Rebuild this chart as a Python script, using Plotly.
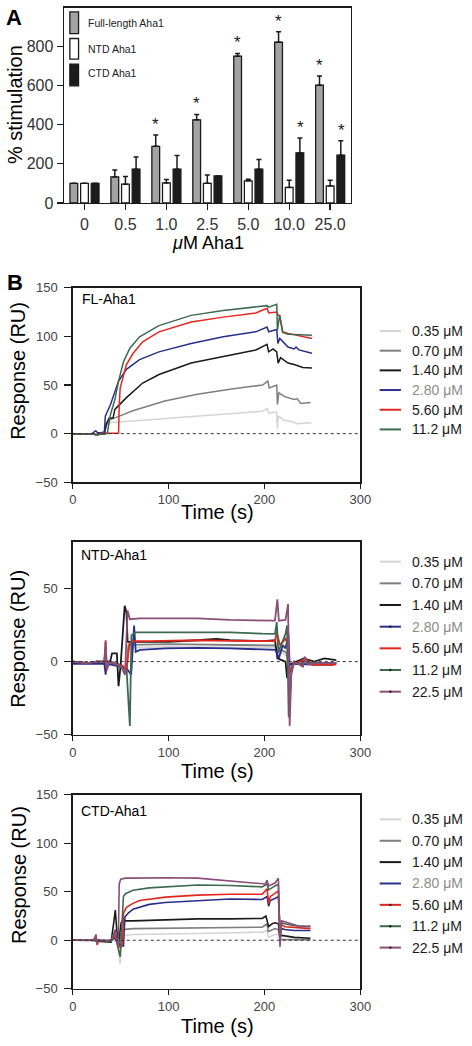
import plotly.graph_objects as go

W, H = 472, 1046
FONT = "Liberation Sans, Arial, sans-serif"

# ---------------- Panel A data ----------------
conc_labels = ["0", "0.5", "1.0", "2.5", "5.0", "10.0", "25.0"]
fl_stim = [100, 133, 289, 424, 749, 820, 601]
fl_err = [None, 35, 58, 28, 14, 54, 47]
ntd_stim = [100, 96, 102, 100, 113, 79, 87]
ntd_err = [None, 39, 18, 43, 8, 37, 29]
ctd_stim = [100, 172, 172, 138, 172, 256, 244]
ctd_err = [None, 62, 70, None, 50, 76, 74]
fl_sig = [False, False, True, True, True, True, True]
ctd_sig = [False, False, False, False, False, True, True]

# ---------------- Panel B: FL-Aha1 sensorgrams ----------------
fl_names = ["0.35 μM", "0.70 μM", "1.40 μM", "2.80 μM", "5.60 μM", "11.2 μM"]
fl_t_035 = [0, 20, 25, 33, 34, 35, 40, 50, 63, 97, 130, 164, 198, 202.7, 204.4, 210, 212.8, 213.5, 214.5, 220, 226, 230, 235, 240, 249]
fl_v_035 = [0, 0, -1, 0, 5, 10, 11.5, 12, 13, 15.5, 18, 20, 23, 26, 21, 22, 22, 5, 18, 14, 13, 12, 10, 11, 11]
fl_t_070 = [0, 20, 25, 33, 35, 38, 46, 62.6, 96, 130, 164, 198, 203.5, 205, 212.8, 213.5, 215, 221, 231, 234, 238, 248]
fl_v_070 = [0, 0, -1, 0, 8, 14, 17, 23.5, 33.5, 40.5, 45.5, 50, 54, 47, 50, 30, 42, 38, 35, 36, 31, 32]
fl_t_140 = [0, 20, 25, 33, 35, 38, 42, 44, 46, 56, 73, 90, 123.5, 157, 191, 202.7, 204.4, 209, 212.8, 214.3, 216.8, 224.6, 231, 240, 249.5]
fl_v_140 = [0, 0, -1, 0, 10, 16, 16, 25, 27, 37, 52, 60.7, 72.5, 79, 86, 91.7, 84, 87, 84, 72.5, 78, 72.5, 71, 68, 67.4]
fl_t_280 = [0, 20, 24, 26, 30, 33, 34, 39.4, 47.8, 56, 69.7, 89.9, 123.5, 157, 191, 202.7, 204.4, 212.8, 214, 216, 224.6, 231, 233, 236, 249.5]
fl_v_280 = [0, 0, 3, 1, 1, 2, 18, 30, 54, 66, 76, 84, 92.7, 99.5, 104.6, 109.6, 104.6, 107, 92.7, 97.8, 89, 87, 89, 86, 82.6]
fl_t_560 = [0, 20, 25, 30, 47, 47.8, 48.5, 49.5, 56, 63, 73, 90, 123.5, 157, 191, 202.7, 204.4, 212.8, 214.5, 216, 219, 224.6, 249.5]
fl_v_560 = [0, 0, -1.5, 0.5, 0.5, 0.5, 30, 47, 70.9, 82.6, 94.4, 104.6, 114.7, 119.7, 124, 128.8, 124, 125, 121.5, 121.5, 104.6, 103, 97.8]
fl_t_112 = [0, 20, 25, 33, 36, 39.4, 44, 47.8, 53, 59.6, 69.7, 89.9, 123.5, 157, 191, 202.7, 204.4, 212.8, 213.5, 215.8, 219, 224.6, 249.5]
fl_v_112 = [0, 0, -1, 0, 0, 20, 35, 54, 74, 87.7, 99.5, 111, 121.5, 126.5, 129.9, 131.5, 130, 133, 106, 121.5, 104, 102, 101]

# ---------------- Panel B: NTD-Aha1 sensorgrams ----------------
ntd_names = ["0.35 μM", "0.70 μM", "1.40 μM", "2.80 μM", "5.60 μM", "11.2 μM", "22.5 μM"]
ntd_t_035 = [0, 15, 33, 34.3, 35.5, 40, 52, 56, 58, 62, 100, 164, 198, 211, 214, 218, 223, 226, 231, 250, 275]
ntd_v_035 = [0, -1, 0, 4, -2, 0, -2, -6, 8, 9.5, 10, 10, 10, 9.5, 5, 6, 4, -4, 0, -1, -1]
ntd_t_070 = [0, 15, 33, 34.3, 35.5, 40, 52, 56, 58, 62, 100, 164, 198, 211, 214, 218, 223, 226, 231, 250, 275]
ntd_v_070 = [0, -1, 0, 6, -3, 0, -3, -8, 11, 11.5, 11.9, 11.5, 11.5, 11, 6, 8, 6, -6, 0, -1, -1]
ntd_t_140 = [0, 15, 25, 33, 39, 41, 46, 47.8, 50, 54.2, 56, 57.3, 62, 100, 130, 150, 164, 198, 211, 213.5, 218, 222, 223.6, 226, 241, 252, 262.5, 275]
ntd_v_140 = [0, -1, 0, 0, 0, 5.6, 5.6, -16.8, -2, 38.2, 33.7, 13.5, 13.5, 13.5, 14.6, 15.5, 14.6, 14, 14.6, 2.2, 1, 0, -11.2, -2, 2.2, 0, 2.2, 1]
ntd_t_280 = [0, 15, 33, 34.3, 35.5, 40, 56, 61, 64, 65.7, 70, 97, 130, 164, 198, 211.6, 215, 219, 222, 225, 226.3, 231, 250, 271.7]
ntd_v_280 = [-1.6, -1.6, -1.6, -9, -2, -2, -4.5, -9, 24.7, 6.7, 8, 9, 9.4, 9, 8.5, 8, 2.2, 11.2, 9, 19, -2.2, -1.6, -2, -2.2]
ntd_t_560 = [0, 15, 25, 33, 34.3, 35.5, 38, 45, 52, 56, 59, 62, 80, 130, 164, 198, 211, 212.8, 216.2, 222, 223.6, 225, 230, 243, 250, 275]
ntd_v_560 = [0, -1, 0, 0, 14.6, -6, 0, -2, -3, -6, 12, 13.9, 14, 14.6, 14.2, 13.9, 14, 20.2, 11.2, 15.7, 13, -9, -2.2, 2.2, -2.2, -2]
ntd_t_112 = [0, 15, 25, 33, 34.3, 35.5, 38, 45, 52, 56.2, 59.6, 61.2, 66, 80, 130, 164, 198, 211, 212.8, 214.5, 222, 223.6, 225.3, 228, 231, 240, 242, 245, 275]
ntd_v_112 = [0, -1, 0, 0, 8, -4, 0, -2, -4, -6, -44, 18, 20, 20, 20.2, 20, 19.1, 19, 27, 6.7, 19, 24.7, -38, -6.7, 0, -3, 2, -1, -1]
ntd_t_225 = [0, 15, 25, 33, 34.3, 35.5, 38, 45, 50, 54.5, 57.2, 59.6, 70, 100, 130, 164, 198, 211, 213.5, 215, 222, 224.6, 226.3, 228, 231, 240, 242, 245, 252, 275]
ntd_v_225 = [0, -1, 0, 0, 13.5, -5, 0, -2, -3, -9, 35, 29, 29.5, 29.5, 29.5, 28.5, 28, 28, 42.6, 28, 28.5, 39.3, -44, -9, 0, -3.4, 3.4, -2, -1, -1]

# ---------------- Panel B: CTD-Aha1 sensorgrams ----------------
ctd_names = ["0.35 μM", "0.70 μM", "1.40 μM", "2.80 μM", "5.60 μM", "11.2 μM", "22.5 μM"]
ctd_t_035 = [0, 40, 45, 47, 49.5, 51, 53, 62.9, 130.3, 197.6, 202.7, 204, 211, 214.5, 216.2, 231.3, 248]
ctd_v_035 = [0, 0, 2, -3, -24, 2, 5, 6, 7, 8.4, 10, 3, 6, 6, 0, 0, 0]
ctd_t_070 = [0, 40, 44, 46, 48, 50, 52, 62.9, 130.3, 197.6, 202.7, 204, 211, 214.5, 216.2, 231.3, 248]
ctd_v_070 = [0, -1, 4, -2, -8, 5, 11, 12, 12.5, 13.5, 17, 9, 12, 11, 1, 0.5, 0.5]
ctd_t_140 = [0, 22, 25, 40, 43, 44.4, 46, 47.8, 50.5, 52, 62.9, 96.6, 130.3, 164, 197.6, 201.5, 204.4, 208, 211.1, 214.5, 216.2, 218, 231.3, 248]
ctd_v_140 = [0, 0, -1, -2, 20, 31, 10, -2, 18, 20, 20, 21, 22, 22, 22.5, 25, 14, 17, 18, 17, 4, 5, 3, 2]
ctd_t_280 = [0, 22, 24.2, 25.5, 27, 40, 44.4, 46, 50, 52.9, 54.5, 57.9, 62.9, 79.8, 96.6, 130.3, 164, 197.6, 202.7, 204.4, 206, 211, 214.5, 216.5, 218, 221.2, 231.3, 248]
ctd_v_280 = [0, 0, 2, -3, 0, -1, 3, -2, -5, -6, 24, 28, 32, 37, 39, 41, 42.5, 42, 45, 35, 41, 43, 45, 6, 12, 11, 10, 10]
ctd_t_560 = [0, 22, 24.2, 25.5, 27, 40, 44.4, 46, 50, 52, 53, 56, 62.9, 69.7, 96.6, 130.3, 164, 197.6, 202.7, 204.4, 206, 211, 214.5, 216, 218, 221.2, 231.3, 248]
ctd_v_560 = [0, 0, 6, -5, 0, -1, 5, -2, -8, -3, 28, 34, 38, 41, 44.5, 46.5, 47.5, 47.5, 53, 38, 45, 48, 51, 8, 16, 14, 13, 12]
ctd_t_112 = [0, 20, 24, 25.5, 27, 40, 44.4, 46, 49.5, 51.2, 52.9, 55, 62.9, 79.8, 96.6, 130.3, 164, 197.6, 202.7, 204.4, 211, 214.5, 216.2, 218, 221.2, 231.3, 248]
ctd_v_112 = [0, 0, 2, -2, 0, -1, 8, -3, -17, 20, 45, 48, 51.5, 54, 55, 57, 56.5, 55, 58, 52, 56, 58, 5, 18, 17, 15, 14]
ctd_t_225 = [0, 20, 23, 24.2, 25.5, 27, 40, 44.4, 46, 47.5, 48.5, 50, 55, 62.9, 96.6, 130.3, 164, 197.6, 201, 202.7, 204.4, 211, 214.5, 216.2, 217.8, 221.2, 231.3, 238, 248]
ctd_v_225 = [0, 0, 0, 4, -3, 0, 0, 11, -2, -5, 58, 63, 64, 64, 64.5, 64, 61, 58.4, 58, 62, 56, 59, 64, -7, 20, 19, 16, 14, 14.5]

# ---------------- styles ----------------
curve_colors = ["#d4d4d4", "#7f7f7f", "#1a1a1a", "#2a2f8c", "#e3261f", "#3e6b50", "#8a4e78"]
label_colors = ["#1a1a1a", "#1a1a1a", "#1a1a1a", "#8c8c8c", "#1a1a1a", "#1a1a1a", "#1a1a1a"]


def fx(px):
    return px / W


def fy(py):
    return 1 - py / H


fig = go.Figure()

# Panel A bars
bar_specs = [
    (fl_stim, fl_err, "#a3a3a3"),
    (ntd_stim, ntd_err, "#ffffff"),
    (ctd_stim, ctd_err, "#1c1c1c"),
]
for vals, errs, col in bar_specs:
    fig.add_trace(go.Bar(
        x=conc_labels, y=vals, xaxis="x", yaxis="y", showlegend=False,
        marker=dict(color=col, line=dict(color="#1a1a1a", width=1.3)),
        error_y=dict(type="data", symmetric=False, array=errs,
                     arrayminus=[0] * len(errs), color="#1a1a1a",
                     thickness=1.5, width=2.5),
    ))

# Panel B curves
panels = [
    ("x2", "y2", fl_names,
     [(fl_t_035, fl_v_035), (fl_t_070, fl_v_070), (fl_t_140, fl_v_140),
      (fl_t_280, fl_v_280), (fl_t_560, fl_v_560), (fl_t_112, fl_v_112)], 1.5),
    ("x3", "y3", ntd_names,
     [(ntd_t_035, ntd_v_035), (ntd_t_070, ntd_v_070), (ntd_t_140, ntd_v_140),
      (ntd_t_280, ntd_v_280), (ntd_t_560, ntd_v_560), (ntd_t_112, ntd_v_112),
      (ntd_t_225, ntd_v_225)], 1.8),
    ("x4", "y4", ctd_names,
     [(ctd_t_035, ctd_v_035), (ctd_t_070, ctd_v_070), (ctd_t_140, ctd_v_140),
      (ctd_t_280, ctd_v_280), (ctd_t_560, ctd_v_560), (ctd_t_112, ctd_v_112),
      (ctd_t_225, ctd_v_225)], 1.6),
]
for xa, ya, names, series, lw in panels:
    for i, (t, v) in enumerate(series):
        fig.add_trace(go.Scatter(
            x=t, y=v, xaxis=xa, yaxis=ya, mode="lines", showlegend=False,
            name=names[i], line=dict(color=curve_colors[i], width=lw),
        ))

annotations = []
shapes = []

# Stars above significant bars (x given as category index)
for vals, errs, sig, shift in [(fl_stim, fl_err, fl_sig, -11), (ctd_stim, ctd_err, ctd_sig, 11)]:
    for idx, (v, e, s) in enumerate(zip(vals, errs, sig)):
        if s:
            annotations.append(dict(
                x=idx, y=v + (e or 0), xref="x", yref="y", text="*", showarrow=False,
                xshift=shift, yanchor="bottom", yshift=-1,
                font=dict(family=FONT, size=17, color="#1a1a1a")))


def text_ann(x, y, text, size, color="black", xanchor="center", angle=0, bold=False):
    annotations.append(dict(
        x=fx(x), y=fy(y), xref="paper", yref="paper",
        text=("<b>%s</b>" % text) if bold else text, showarrow=False,
        xanchor=xanchor, yanchor="middle", textangle=angle,
        font=dict(family=FONT, size=size, color=color)))


# Panel letters, axis titles, panel titles
text_ann(0, 11, "A", 22, xanchor="left", bold=True)
text_ann(1, 280, "B", 22, xanchor="left", bold=True)
text_ann(12, 99, "% stimulation", 20, angle=-90)
text_ann(211, 240, "<i>μ</i>M Aha1", 18)
for ycen, xt_y in [(370, 513), (642, 776), (882, 1035)]:
    text_ann(15, ycen, "Response (RU)", 20, angle=-90)
    text_ann(221, xt_y, "Time (s)", 20)
text_ann(79, 297, "FL-Aha1", 14, xanchor="left")
text_ann(77, 557, "NTD-Aha1", 14, xanchor="left")
text_ann(77, 816, "CTD-Aha1", 14, xanchor="left")

# Panel A legend (swatches drawn as rectangles + text)
legend_a = [("Full-length Aha1", "#a3a3a3", 5, 27, 16),
            ("NTD Aha1", "#ffffff", 32, 53, 43),
            ("CTD Aha1", "#1c1c1c", 58, 80, 67)]
for label, col, y0, y1, yc in legend_a:
    shapes.append(dict(type="rect", xref="paper", yref="paper",
                       x0=fx(68), x1=fx(77), y0=fy(y1), y1=fy(y0),
                       fillcolor=col, line=dict(color="#1a1a1a", width=1.3)))
    text_ann(85, yc, label, 10.5, color="#222", xanchor="left")

# Panel B legends (line swatches + text)
legend_b = [(fl_names, 329, 20.0, []),
            (ntd_names, 563.3, 22.0, [3, 5, 6]),
            (ctd_names, 825, 21.7, [4, 5, 6])]
for names, y_first, step, dotted in legend_b:
    for i, name in enumerate(names):
        yy = y_first + i * step
        shapes.append(dict(type="line", xref="paper", yref="paper",
                           x0=fx(388), x1=fx(410), y0=fy(yy), y1=fy(yy),
                           line=dict(color=curve_colors[i], width=2)))
        if i in dotted:
            shapes.append(dict(type="circle", xref="paper", yref="paper",
                               x0=fx(397.8), x1=fx(400.2), y0=fy(yy + 1.2), y1=fy(yy - 1.2),
                               fillcolor="#1a1a1a", line=dict(width=0)))
        text_ann(419, yy, name, 14, color=label_colors[i], xanchor="left")

# dotted zero lines
for xa, ya in [("x2", "y2"), ("x3", "y3"), ("x4", "y4")]:
    shapes.append(dict(type="line", xref=xa, yref=ya, x0=0, x1=300, y0=0, y1=0,
                       line=dict(color="#333", width=1, dash="dot")))

axis_common = dict(showline=True, linecolor="#1a1a1a", linewidth=1.5, mirror=True,
                   ticks="outside", tickcolor="#1a1a1a", tickwidth=1.3, showgrid=False,
                   zeroline=False)

b_x = dict(range=[0, 300], tickvals=[0, 100, 200, 300], ticklen=5,
           tickfont=dict(family=FONT, size=13, color="#444"), **axis_common)


def b_y(rng, tv):
    return dict(range=rng, tickvals=tv, ticklen=7, ticklabelstandoff=4,
                tickfont=dict(family=FONT, size=13, color="#444"), **axis_common)


fig.update_layout(
    width=W, height=H, margin=dict(l=0, r=0, t=0, b=0),
    paper_bgcolor="white", plot_bgcolor="white",
    barmode="group", bargap=0.22, bargroupgap=0.27,
    font=dict(family=FONT), showlegend=False,
    xaxis=dict(domain=[fx(62), fx(358)], anchor="y", type="category",
               range=[-0.5, len(conc_labels) - 0.5], ticklen=6,
               tickangle=0,
               tickfont=dict(family=FONT, size=16, color="#333"), **axis_common),
    yaxis=dict(domain=[fy(199), fy(1)], anchor="x", range=[0, 995],
               tickvals=[0, 200, 400, 600, 800], ticklen=6,
               tickfont=dict(family=FONT, size=16, color="#333"), **axis_common),
    xaxis2=dict(domain=[fx(71), fx(368)], anchor="y2", **b_x),
    yaxis2=dict(domain=[fy(482.7), fy(285)], anchor="x2", **b_y([-50, 150], [-50, 0, 50, 100, 150])),
    xaxis3=dict(domain=[fx(71), fx(368)], anchor="y3", **b_x),
    yaxis3=dict(domain=[fy(739), fy(543)], anchor="x3", **b_y([-50, 82], [-50, 0, 50])),
    xaxis4=dict(domain=[fx(71), fx(368)], anchor="y4", **b_x),
    yaxis4=dict(domain=[fy(997), fy(800)], anchor="x4", **b_y([-50, 150], [-50, 0, 50, 100, 150])),
    annotations=annotations,
    shapes=shapes,
)

fig.write_html(
    "out.html",
    config={"displayModeBar": False, "staticPlot": True},
    post_script="document.body.style.margin='0';document.body.style.overflow='hidden';",
)
